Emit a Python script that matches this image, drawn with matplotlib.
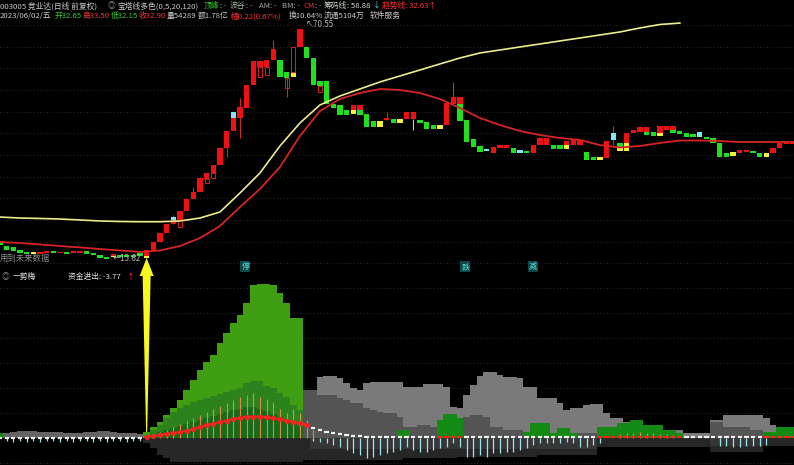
import numpy as np
import matplotlib.pyplot as plt
import matplotlib.transforms as mtransforms
from matplotlib.patches import Polygon

plt.rcParams['font.family'] = ['Noto Sans CJK SC', 'DejaVu Sans']
HFONT = ['Noto Sans CJK SC', 'DejaVu Sans']

W, H = 794, 465
n = 120
x = np.arange(n)

# ---------------- 主图: 宝塔线 (价格) ----------------
blk_top = [
    17.48, 16.91, 16.80, 16.47, 16.26, 16.26, 16.26, 16.36, 16.36, 16.26,
    16.26, 16.36, 16.36, 16.36, 16.15, 15.94, 15.73, 16.04, 15.94, 15.94,
    15.94, 16.15, 16.47, 17.36, 18.42, 19.55, 20.07, 21.29, 23.04, 24.13,
    26.46, 27.34, 28.82, 32.23, 36.05, 39.27, 42.22, 48.80, 57.15, 57.15,
    57.53, 61.85, 57.53, 53.16, 53.16, 70.55, 62.67, 58.29, 50.11, 50.11,
    43.06, 42.78, 41.40, 42.78, 42.78, 40.32, 38.50, 38.50, 39.27, 39.01,
    39.01, 40.86, 40.86, 38.75, 38.25, 37.50, 37.50, 43.34, 45.09, 45.09,
    38.75, 34.20, 32.66, 32.02, 32.45, 32.87, 32.87, 32.23, 31.81, 31.60,
    32.87, 34.43, 34.43, 32.87, 32.87, 33.75, 33.98, 33.98, 31.39, 30.38,
    30.38, 33.75, 35.58, 33.31, 35.58, 36.29, 37.01, 37.01, 35.82, 37.25,
    37.25, 37.25, 36.05, 35.58, 35.35, 35.82, 34.66, 34.43, 33.31, 31.19,
    31.39, 31.81, 31.81, 31.60, 31.19, 31.19, 32.23, 33.31, 33.53, 33.53,
]
blk_bot = [
    17.02, 16.47, 16.36, 16.15, 16.04, 16.04, 16.04, 16.15, 16.15, 16.15,
    16.04, 16.15, 16.15, 16.04, 15.94, 15.62, 15.52, 15.83, 15.73, 15.73,
    15.73, 15.83, 15.83, 16.47, 17.36, 18.42, 19.55, 20.07, 21.29, 23.04,
    24.13, 26.28, 27.34, 28.82, 32.23, 36.05, 39.27, 41.94, 48.80, 54.94,
    54.94, 57.53, 51.44, 51.10, 51.44, 62.67, 58.29, 48.80, 48.48, 43.06,
    41.94, 40.06, 40.06, 41.40, 41.40, 37.01, 37.01, 37.01, 38.75, 38.00,
    38.00, 39.01, 39.01, 38.00, 36.53, 36.53, 36.53, 37.50, 43.06, 43.06,
    33.53, 32.45, 31.39, 31.60, 31.19, 32.23, 32.23, 31.19, 31.19, 31.19,
    31.19, 32.87, 32.87, 32.02, 32.02, 32.87, 32.87, 32.87, 29.78, 29.78,
    29.78, 30.18, 33.98, 32.45, 33.31, 35.58, 35.82, 35.82, 34.89, 35.58,
    36.29, 36.29, 35.35, 34.66, 34.66, 34.66, 34.20, 33.31, 30.38, 30.38,
    30.58, 31.19, 31.39, 31.19, 30.38, 30.38, 31.19, 32.23, 33.09, 33.09,
]
blk_col = ("GGGGGYRRGR" "GRRGGGGRGG" "GGRRRRRRRR" "RRRRRRRRRR"
           "RRGGYRGGGG" "GGGRRGGYRG" "YRRGGGYRRR" "GGGCRRRGCG"
           "RRRGGRRRGG" "YRCGRRRRGR" "RRGGGCGGGG" "YRRGGYRRRR")

# 转折处的第二段颜色
ext_idx = [17, 22, 26, 35, 53, 54, 69, 85, 93, 94, 97, 99, 101]
ext_top = [15.83, 15.83, 20.46, 40.86, 41.40, 41.40, 43.06, 32.87, 32.23, 33.31, 35.82, 35.58, 36.29]
ext_bot = [15.73, 15.62, 20.07, 39.27, 40.32, 40.06, 38.50, 32.02, 31.60, 31.60, 35.11, 34.89, 35.58]
ext_col = "YYCCYGGYYYGYG"

# 空心K线和影线
hol_idx = [27, 31, 32, 39, 40, 43, 44, 48]
hol_top = [20.07, 26.28, 27.34, 54.94, 54.94, 51.10, 62.67, 48.48]
hol_bot = [19.16, 25.60, 26.46, 51.44, 52.12, 47.85, 53.16, 46.60]
wk_idx = [26, 29, 34, 36, 41, 43, 58, 62, 68, 92]
wk_hi = [20.73, 24.93, 32.23, 44.80, 65.63, 51.10, 40.86, 39.01, 49.78, 37.25]
wk_lo = [19.55, 24.13, 30.38, 34.43, 57.53, 45.09, 38.75, 36.29, 45.09, 32.87]

# 均线
yel_idx = list(range(0, 103, 3))
yel_ma = [20.46, 20.33, 20.27, 20.20, 20.07, 19.94, 19.87, 19.84, 19.84, 19.94,
          20.33, 21.15, 23.97, 27.34, 32.66, 38.00, 42.78, 45.39, 47.53, 49.78,
          51.78, 53.86, 56.04, 58.29, 60.24, 61.44, 62.67, 63.92, 65.20, 66.49,
          67.82, 69.17, 71.02, 72.66, 73.36]
red_idx = list(range(0, 120, 3)) + [119]
red_ma = [17.36, 17.25, 17.08, 16.91, 16.75, 16.58, 16.42, 16.26, 16.42, 16.91,
          17.82, 19.29, 21.86, 24.61, 28.44, 34.89, 41.12, 44.50, 46.30, 47.53,
          47.22, 46.30, 44.50, 41.94, 39.27, 37.50, 36.05, 35.11, 34.43, 33.98,
          32.87, 32.34, 32.66, 33.31, 33.86, 33.86, 33.75, 33.53, 33.53, 33.53,
          33.53]

# ---------------- 副图: 一剪梅 ----------------
lg_start = 22
lg = [2.4, 4.4, 6.4, 9.2, 12.0, 15.2, 19.2, 23.2, 27.2, 30.4, 33.2, 38.0,
      42.0, 46.0, 49.2, 54.0, 61.2, 61.6, 61.6, 61.2, 58.0, 54.0, 48.0, 48.0]
mg_start = 23
mg = [3.2, 5.2, 8.0, 10.4, 12.0, 13.2, 14.4, 15.2, 16.0, 16.8, 17.6, 18.4,
      19.2, 20.0, 22.0, 22.8, 22.8, 20.8, 20.0, 18.0, 16.4, 13.2, 11.2]
dg_start = 23
dg = [1.6, 2.4, 3.2, 4.0, 4.8, 5.6, 6.4, 7.2, 8.0, 8.8, 9.6, 10.4,
      11.2, 11.6, 12.4, 12.4, 11.6, 10.8, 9.6, 8.4, 7.2, 6.0, 4.8]
rg_idx = [0, 60, 61, 66, 67, 68, 69, 79, 80, 81, 82, 83, 84, 85, 86, 90, 91, 92,
          93, 94, 95, 96, 97, 98, 99, 100, 101, 102, 115, 116, 117, 118, 119]
rg_val = [2.0, 3.2, 3.2, 7.2, 9.6, 9.6, 8.0, 2.4, 6.0, 6.0, 6.0, 2.0, 4.0, 4.0, 2.0,
          4.4, 4.4, 4.4, 6.0, 6.0, 7.2, 7.2, 5.2, 5.2, 5.2, 3.2, 3.2, 2.0,
          2.4, 2.4, 4.4, 4.4, 4.4]

lgy_start = 48
lgy = [24.4, 24.8, 24.8, 24.0, 22.0, 20.0, 19.2, 22.0, 22.4, 22.4,
       22.4, 22.4, 22.4, 20.4, 20.4, 20.4, 21.6, 21.6, 21.6, 20.4,
       12.4, 12.0, 17.2, 21.2, 24.8, 26.4, 26.4, 25.2, 24.4, 24.4,
       24.0, 20.4, 20.4, 16.2, 16.2, 16.2, 14.0, 11.2, 12.0, 12.0,
       13.2, 13.6, 13.6, 10.0, 8.0, 8.0, 6.4, 6.4, 4.4, 4.4,
       4.4, 3.2, 3.2, 3.2, 3.2, 2.0, 2.0, 2.0, 2.0, 7.2,
       7.2, 9.2, 9.2, 9.2, 9.2, 9.2, 9.2, 8.0, 5.2, 4.0,
       4.0, 4.0]
gyl_start = 1
gyl = [2.0, 2.4, 2.8, 2.8, 2.8, 2.4, 2.4, 2.4, 2.4, 2.0, 2.0,
       2.0, 2.4, 2.4, 2.8, 2.8, 2.4, 2.0, 2.0, 2.0, 1.6]
mgy_start = 46
mgy = [19.2, 19.2, 17.2, 17.2, 17.2, 16.0, 15.2, 14.0, 14.0, 12.0,
       11.2, 10.4, 10.0, 10.0, 8.4, 4.4, 4.4, 5.2, 5.2, 4.4,
       2.4, 2.4, 2.4, 7.2, 8.4, 9.2, 9.2, 8.4, 4.4, 4.4,
       3.2, 3.2, 3.2, 2.0, 2.0, 2.0, 2.0, 2.0, 2.0, 2.0,
       2.0, 2.0, 2.0, 2.0]
mgy2_start = 107
mgy2 = [6.4, 6.4, 4.4, 4.4, 4.4, 4.4, 3.2, 3.2]

neg_start = [22, 23, 24, 25, 26, 46, 61, 69, 81, 90, 107, 115]
neg_end = [22, 23, 24, 25, 45, 60, 68, 80, 89, 106, 114, 119]
neg_val = [-2.0, -4.0, -6.8, -8.0, -9.6, -8.8, -8.0, -7.6, -6.8, -3.6, -5.6, -3.2]
neg2_start = [47, 107]
neg2_end = [89, 114]
neg2_val = [-4.4, -3.2]

cvl_start = 1
cvl = [-1.2, -1.6, -1.2, -1.6, -1.2, -1.6, -1.2, -1.2, -1.6, -1.2, -1.6,
       -1.2, -1.2, -1.6, -1.2, -1.6, -1.2, -1.2, -1.6, -1.2, -1.2]
cv_start = 47
cv = [-1.2, -1.6, -2.0, -2.8, -3.6, -4.8, -6.0, -6.8, -8.0, -7.6,
      -6.8, -6.0, -5.6, -4.8, -3.6, -4.8, -5.6, -5.6, -4.8, -4.0,
      -3.6, -2.0, -3.6, -7.6, -7.6, -6.8, -7.6, -6.0, -6.0, -5.6,
      -5.6, -4.8, -4.0, -2.8, -2.0, -2.0, -2.0, -2.0, -1.6, -2.0,
      -3.6, -3.6, -2.8, -2.0]
cvr_start = 108
cvr = [-3.2, -3.2, -3.6, -3.6, -3.2, -3.2, -3.2, -2.8]

ov_start = 22
ov = [0.8, 1.6, 2.4, 3.2, 4.4, 5.6, 6.8, 8.0, 9.2, 10.4, 11.6, 12.8, 14.0,
      15.2, 16.4, 17.2, 18.0, 16.4, 15.6, 14.4, 11.6, 10.0, 11.6, 10.0, 7.2, 3.2]
ov2_start = 93
ov2 = [1.6, 2.0, 2.0, 2.4, 2.0, 2.0, 1.6, 1.6, 1.2]

fund = [0.2, 0.2, 0.2, 0.2, 0.2, 0.2, 0.2, 0.2, 0.2, 0.2, 0.2,      # 0-10
        0.2, 0.2, 0.2, 0.2, 0.2, 0.2, 0.2, 0.2, 0.2, 0.2, 0.2,      # 11-21
        0.5, 0.8, 1.2, 1.6, 2.0, 2.4, 2.9, 3.6, 4.4, 5.2, 5.8, 6.4,  # 22-33
        7.0, 7.6, 8.0, 8.4, 8.6, 8.6, 8.4, 8.0, 7.6, 7.0, 6.4, 6.0,  # 34-45
        5.2, 4.0, 3.2, 2.6, 2.0, 1.6, 1.2, 1.0, 0.8, 0.6, 0.4,      # 46-56
        0.3, 0.3, 0.3, 0.3, 0.3, 0.3, 0.3, 0.3, 0.3,                # 57-65
        0.4, 0.4, 0.4, 0.4,                                         # 66-69
        0.3, 0.3, 0.3, 0.3, 0.3, 0.3, 0.3, 0.3, 0.3, 0.3,           # 70-79
        0.3, 0.3, 0.3, 0.3, 0.3, 0.3, 0.3, 0.3, 0.3, 0.3,           # 80-89
        0.4, 0.4, 0.4, 0.4, 0.4, 0.4, 0.4, 0.4, 0.4, 0.4, 0.4, 0.4, 0.4,  # 90-102
        0.3, 0.3, 0.3, 0.3, 0.3, 0.3, 0.3, 0.3, 0.3, 0.3, 0.3, 0.3,  # 103-114
        0.4, 0.4, 0.4, 0.4, 0.4]                                    # 115-119
red_runs = [(22, 46), (66, 69), (90, 102), (115, 119)]

colmap = {'R': '#EE1111', 'G': '#1FE01F', 'Y': '#F2F23C', 'C': '#7FE6F2'}

fig = plt.figure(figsize=(W / 100, H / 100), dpi=100, facecolor='black')
ax = fig.add_axes([0, (H - 270) / H, 1, 250 / H])
ax2 = fig.add_axes([0, 0, 1, 195 / H])
for a in (ax, ax2):
    a.set_facecolor('black')
    a.set_axis_off()
    a.set_xlim(0, W / 6.665)

# ----- 主图 -----
ax.set_yscale('log')
ax.set_ylim(14.44, 74.85)
for k in range(12):
    yf = (270 - (25 + 21.67 * k)) / 250
    ax.plot([0, 1], [yf, yf], transform=ax.transAxes, color='#3a3a3a',
            lw=0.6, ls=(0, (1, 3)), zorder=0)

ax.vlines(wk_idx, wk_lo, wk_hi, colors=['#D02828'] * 7 + ['#7FE6F2'] + ['#D02828'] * 2,
          lw=0.8, zorder=1)
top = np.array(blk_top)
bot = np.array(blk_bot)
ax.bar(x, top - bot, bottom=bot, width=0.8, color=[colmap[c] for c in blk_col],
       lw=0, zorder=2)
ax.bar(ext_idx, np.array(ext_top) - np.array(ext_bot), bottom=ext_bot, width=0.8,
       color=[colmap[c] for c in ext_col], lw=0, zorder=2)
ax.bar(hol_idx, np.array(hol_top) - np.array(hol_bot), bottom=hol_bot, width=0.6,
       fill=False, edgecolor='#D82020', lw=0.7, zorder=2)

ax.plot(yel_idx, yel_ma, color='#ECEC8C', lw=1.2, zorder=3)
ax.plot(red_idx, red_ma, color='#D62424', lw=1.3, zorder=3)

ax.text(45.8, 70.55, '↖70.55', color='#B4B4B4', fontsize=5.8, va='bottom', ha='left')
ax.text(16.9, 15.62, '←15.62', color='#B4B4B4', fontsize=5.8, va='center', ha='left')
ax.text(0.0, 0.048, '用到未来数据', transform=ax.transAxes, color='#8C8C8C',
        fontsize=6.0, va='center', ha='left')
trm = mtransforms.blended_transform_factory(ax.transData, ax.transAxes)
for xi, s in [(36.8, '停'), (69.8, '跌'), (80.0, '减')]:
    ax.text(xi, 0.014, s, transform=trm, color='#4FE6E6', fontsize=5.8,
            va='center', ha='center',
            bbox=dict(boxstyle='square,pad=0.1', fc='#0E4646', ec='none'))

# ----- 副图 -----
ax2.set_ylim(-10.8, 67.2)
for v in range(-10, 70, 10):
    ax2.axhline(v, color='#3a3a3a', lw=0.6, ls=(0, (1, 3)), zorder=0)

for s, e, v in zip(neg_start, neg_end, neg_val):
    ax2.bar(np.arange(s, e + 1), v, width=1.0, color='#262626', lw=0, zorder=1)
for s, e, v in zip(neg2_start, neg2_end, neg2_val):
    ax2.bar(np.arange(s, e + 1), v, width=1.0, color='#363636', lw=0, zorder=1)

ax2.bar(np.arange(lgy_start, lgy_start + len(lgy)), lgy, width=1.0, color='#7A7A7A', lw=0, zorder=2)
ax2.bar(np.arange(gyl_start, gyl_start + len(gyl)), gyl, width=1.0, color='#646464', lw=0, zorder=3)
ax2.bar(np.arange(mgy_start, mgy_start + len(mgy)), mgy, width=1.0, color='#545454', lw=0, zorder=3)
ax2.bar(np.arange(mgy2_start, mgy2_start + len(mgy2)), mgy2, width=1.0, color='#545454', lw=0, zorder=3)

ax2.bar(np.arange(lg_start, lg_start + len(lg)), lg, width=1.0, color='#3F9E12', lw=0, zorder=4)
ax2.bar(np.arange(mg_start, mg_start + len(mg)), mg, width=1.0, color='#2C821C', lw=0, zorder=5)
ax2.bar(np.arange(dg_start, dg_start + len(dg)), dg, width=1.0, color='#1A6A1A', lw=0, zorder=6)
ax2.bar(rg_idx, rg_val, width=1.0, color='#138A13', lw=0, zorder=6)

ax2.vlines(np.arange(ov_start, ov_start + len(ov)), 0, ov, colors='#D98C4A', lw=0.8, zorder=7)
ax2.vlines(np.arange(ov2_start, ov2_start + len(ov2)), 0, ov2, colors='#D98C4A', lw=0.8, zorder=7)
for s, vals in [(cvl_start, cvl), (cv_start, cv), (cvr_start, cvr)]:
    ax2.vlines(np.arange(s, s + len(vals)), 0, vals, colors='#9FE3EE', lw=0.9, zorder=7)

fund = np.array(fund)
is_red = np.zeros(n, bool)
for s, e in red_runs:
    is_red[s:e + 1] = True
ax2.hlines(fund, x - 0.32, x + 0.32, colors=np.where(is_red, '#FF2020', '#F0F0F0'),
           lw=1.6, zorder=8)
s, e = red_runs[0]
ax2.plot(x[s:e + 1], fund[s:e + 1], color='#FF2020', lw=1.2, marker='o', ms=2.6, zorder=9)

# 黄色箭头
tra = mtransforms.blended_transform_factory(ax2.transData, fig.transFigure)
ay = lambda p: 1 - p / H
arrow = Polygon([(22, ay(258)), (23.05, ay(276)), (22.6, ay(276)), (22.08, ay(432)),
                 (21.92, ay(432)), (21.4, ay(276)), (20.95, ay(276))],
                closed=True, transform=tra, fc='#F8F820', ec='none', zorder=20)
fig.add_artist(arrow)

# ----- 文字 -----
def htxt(px, py, s, c, fs=5.6):
    fig.text(px / W, 1 - py / H, s, color=c, fontsize=fs, va='center', ha='left',
             family=HFONT)

grey = '#C8C8C8'
dim = '#A8A8A8'
red = '#FF3030'
green = '#30D030'
htxt(0, 6, '003005 竞业达(日线 前复权)', grey)
htxt(108, 6, '◎', '#8A8A8A')
htxt(117, 6, '宝塔线多色(0,5,20,120)', grey)
htxt(204, 6, '顶峰', green)
htxt(220, 6, ': -', dim)
htxt(230, 6, '波谷', '#9CB49C')
htxt(246, 6, ': -', dim)
htxt(259, 6, 'AM: -', dim)
htxt(282, 6, 'BM: -', dim)
htxt(303, 6, 'CM', red)
htxt(315, 6, ': -', dim)
htxt(324, 6, '筹码线', '#C0D0C0')
htxt(347, 6, ': 58.88', '#E0E0E0')
htxt(373, 6, '↓', '#40E0E0')
htxt(382, 6, '趋势线: 32.63↑', red)

htxt(0, 16, '2023/06/02/五', grey)
htxt(55, 16, '开32.65', green)
htxt(83, 16, '高33.50', red)
htxt(111, 16, '低32.15', green)
htxt(139, 16, '收32.90', red)
htxt(167, 16, '量54289', grey)
htxt(198, 16, '额1.78亿', grey)
htxt(230, 16, '幅0.22(0.67%)', red)
htxt(289, 16, '换10.64%', grey)
htxt(324, 16, '流通5104万', grey)
htxt(370, 16, '软件服务', grey)

htxt(2, 277, '◎', '#8A8A8A')
htxt(13, 277, '一剪梅', '#E0E0E0')
htxt(68, 277, '资金进出: -3.77', '#E0E0E0')
htxt(127, 277, '↑', red)

fig.savefig('out.png', dpi=100, facecolor='black')
